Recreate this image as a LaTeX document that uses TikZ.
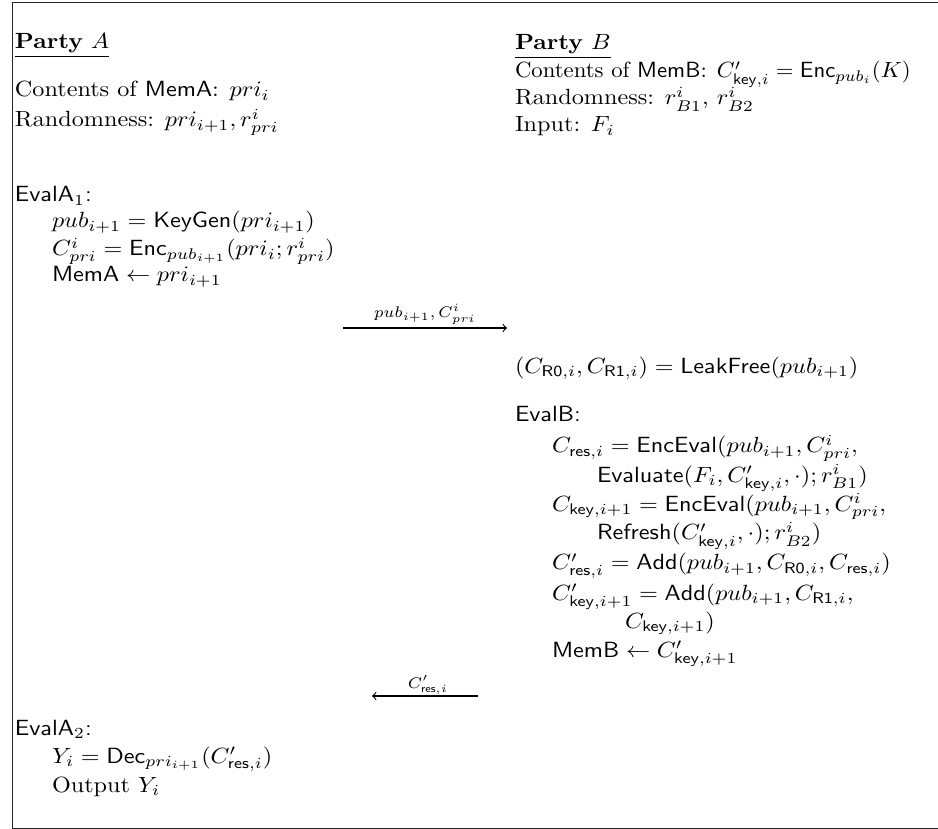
\documentclass[tikz,border=0pt]{standalone}
\usepackage{amsmath}
\begin{document}
\begin{tikzpicture}[x=0.4545pt,y=-0.4545pt,
  txt/.style={anchor=base west,inner sep=0pt,outer sep=0pt,xscale=1.1,transform shape},
  txtfit/.style={anchor=base west,inner sep=0pt,outer sep=0pt,xscale=1.035,transform shape},
  msg/.style={anchor=base,inner sep=0pt,font=\scriptsize,xscale=1.05,transform shape},
  frameline/.style={line width=0.4pt,draw=black!85},
  msgarrow/.style={line width=0.5pt,->}]
\useasboundingbox (0,0) rectangle (938,829);
\draw[frameline] (960,2) -- (12,2) -- (12,828) -- (960,828);
% Party A
\node[txt] (pa) at (15,49) {\underline{\textbf{Party} $A$}};
\node[txt] (pa1) at (15,97) {Contents of $\mathsf{MemA}$: $pri_i$};
\node[txt] (pa2) at (15,127) {Randomness: $pri_{i+1}, r^i_{pri}$};
\node[txt] (ea1) at (15,202) {$\mathsf{EvalA}_1$\textsf{:}};
\node[txt] (ea11) at (52,228) {$pub_{i+1} = \mathsf{KeyGen}(pri_{i+1})$};
\node[txt] (ea12) at (52,256) {$C^i_{pri} = \mathsf{Enc}_{pub_{i+1}}(pri_i; r^i_{pri})$};
\node[txt] (ea13) at (52,282) {$\mathsf{MemA} \gets pri_{i+1}$};
\node[txt] (ea2) at (15,735) {$\mathsf{EvalA}_2$\textsf{:}};
\node[txt] (ea21) at (52,763) {$Y_i = \mathsf{Dec}_{pri_{i+1}}(C'_{\mathsf{res},i})$};
\node[txt] (ea22) at (52,792) {Output $Y_i$};
% Party B
\node[txt] (pb) at (515,50) {\underline{\textbf{Party} $B$}};
\node[txtfit] (pb1) at (515,78) {Contents of $\mathsf{MemB}$: $C'_{\mathsf{key},i} = \mathsf{Enc}_{pub_i}(K)$};
\node[txt] (pb2) at (515,105) {Randomness: $r^i_{B1}$, $r^i_{B2}$};
\node[txt] (pb3) at (515,132) {Input: $F_i$};
\node[txt] (lf) at (515,373) {$(C_{\mathsf{R0},i}, C_{\mathsf{R1},i}) = \mathsf{LeakFree}(pub_{i+1})$};
\node[txt] (eb) at (515,422) {$\mathsf{EvalB}$\textsf{:}};
\node[txt] (eb1) at (552,453) {$C_{\mathsf{res},i} = \mathsf{EncEval}(pub_{i+1}, C^i_{pri},$};
\node[txt] (eb1b) at (597,482) {$\mathsf{Evaluate}(F_i, C'_{\mathsf{key},i}, \cdot); r^i_{B1})$};
\node[txt] (eb2) at (552,511) {$C_{\mathsf{key},i+1} = \mathsf{EncEval}(pub_{i+1}, C^i_{pri},$};
\node[txt] (eb2b) at (597,540) {$\mathsf{Refresh}(C'_{\mathsf{key},i}, \cdot); r^i_{B2})$};
\node[txt] (eb3) at (552,570) {$C'_{\mathsf{res},i} = \mathsf{Add}(pub_{i+1}, C_{\mathsf{R0},i}, C_{\mathsf{res},i})$};
\node[txt] (eb4) at (552,600) {$C'_{\mathsf{key},i+1} = \mathsf{Add}(pub_{i+1}, C_{\mathsf{R1},i},$};
\node[txt] (eb4b) at (625,628) {$C_{\mathsf{key},i+1})$};
\node[txt] (eb5) at (552,657) {$\mathsf{MemB} \gets C'_{\mathsf{key},i+1}$};
% messages
\coordinate (m1s) at (343,328);
\coordinate (m1e) at (507,328);
\node[msg] (m1l) at (425,318) {$pub_{i+1}, C^i_{pri}$};
\draw[msgarrow] (m1s) -- (m1e);
\coordinate (m2s) at (478,696);
\coordinate (m2e) at (372,696);
\node[msg] (m2l) at (428,688) {$C'_{\mathsf{res},i}$};
\draw[msgarrow] (m2s) -- (m2e);
\end{tikzpicture}
\end{document}
